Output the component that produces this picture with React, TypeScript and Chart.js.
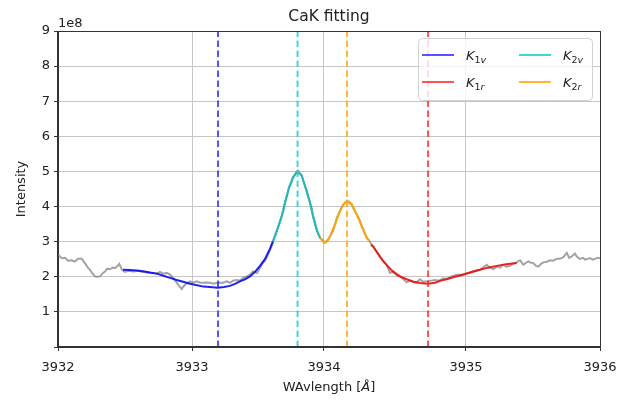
import React, { useEffect, useRef } from "react";
import { Chart, registerables } from "chart.js";

Chart.register(...registerables);

// Observed spectrum (wavelength in Å, intensity in units of 1e8)
const grayWl = [
  3932.002, 3932.027, 3932.052, 3932.074, 3932.101, 3932.125, 3932.148, 3932.175, 3932.199, 3932.221,
  3932.236, 3932.251, 3932.273, 3932.288, 3932.31, 3932.332, 3932.347, 3932.362, 3932.384, 3932.406,
  3932.421, 3932.435, 3932.452, 3932.472, 3932.494, 3932.517, 3932.556, 3932.59, 3932.62, 3932.655,
  3932.694, 3932.728, 3932.753, 3932.775, 3932.802, 3932.827, 3932.851, 3932.871, 3932.888, 3932.913,
  3932.923, 3932.937, 3932.959, 3932.974, 3932.996, 3933.024, 3933.048, 3933.07, 3933.097, 3933.122,
  3933.144, 3933.171, 3933.196, 3933.218, 3933.245, 3933.269, 3933.292, 3933.319, 3933.343, 3933.365,
  3933.393, 3933.417, 3933.439, 3933.469, 3933.491, 3933.513, 3933.528, 3933.55, 3933.565, 3933.579,
  3933.587, 3933.614, 3933.631, 3933.651, 3933.661, 3933.675, 3933.69, 3933.705, 3933.72, 3933.734,
  3933.749, 3933.762, 3933.771, 3933.786, 3933.799, 3933.808, 3933.823, 3933.838, 3933.86, 3933.875,
  3933.882, 3933.897, 3933.909, 3933.919, 3933.934, 3933.948, 3933.97, 3933.993, 3934.007, 3934.03,
  3934.044, 3934.059, 3934.081, 3934.096, 3934.118, 3934.135, 3934.148, 3934.168, 3934.185, 3934.205,
  3934.221, 3934.242, 3934.258, 3934.279, 3934.297, 3934.31, 3934.327, 3934.347, 3934.376, 3934.399,
  3934.426, 3934.45, 3934.475, 3934.502, 3934.524, 3934.546, 3934.573, 3934.598, 3934.62, 3934.642,
  3934.672, 3934.694, 3934.728, 3934.753, 3934.782, 3934.812, 3934.844, 3934.871, 3934.9, 3934.943,
  3934.974, 3935.004, 3935.041, 3935.077, 3935.114, 3935.137, 3935.164, 3935.188, 3935.213, 3935.24,
  3935.262, 3935.284, 3935.311, 3935.336, 3935.358, 3935.385, 3935.41, 3935.434, 3935.454, 3935.471,
  3935.491, 3935.508, 3935.528, 3935.545, 3935.565, 3935.582, 3935.609, 3935.631, 3935.653, 3935.681,
  3935.705, 3935.73, 3935.755, 3935.772, 3935.791, 3935.815, 3935.83, 3935.852, 3935.875, 3935.889,
  3935.911, 3935.926, 3935.948, 3935.963, 3935.985, 3936.0,
];
const grayI = [
  2.63, 2.53, 2.54, 2.46, 2.47, 2.43, 2.51, 2.51, 2.39, 2.26,
  2.2, 2.11, 2.01, 2.0, 2.01, 2.11, 2.15, 2.23, 2.22, 2.26,
  2.25, 2.29, 2.37, 2.2, 2.14, 2.17, 2.15, 2.17, 2.14, 2.12,
  2.11, 2.09, 2.14, 2.09, 2.11, 2.06, 1.96, 1.86, 1.77, 1.65,
  1.71, 1.77, 1.83, 1.87, 1.83, 1.87, 1.83, 1.83, 1.84, 1.83,
  1.8, 1.82, 1.83, 1.83, 1.87, 1.83, 1.89, 1.91, 1.89, 1.97,
  2.01, 2.06, 2.15, 2.11, 2.26, 2.4, 2.46, 2.63, 2.77, 2.89,
  3.0, 3.31, 3.49, 3.74, 3.86, 4.11, 4.31, 4.54, 4.66, 4.83,
  4.91, 5.0, 5.03, 4.94, 4.89, 4.77, 4.6, 4.43, 4.11, 3.91,
  3.74, 3.54, 3.34, 3.23, 3.11, 3.06, 2.97, 3.06, 3.15, 3.31,
  3.49, 3.69, 3.87, 4.0, 4.11, 4.17, 4.11, 4.06, 3.91, 3.77,
  3.66, 3.44, 3.29, 3.11, 3.03, 2.94, 2.86, 2.74, 2.58, 2.43,
  2.34, 2.11, 2.15, 2.03, 2.01, 1.94, 1.84, 1.89, 1.87, 1.83,
  1.93, 1.86, 1.87, 1.89, 1.91, 1.89, 1.96, 1.94, 2.0, 2.06,
  2.06, 2.09, 2.12, 2.17, 2.2, 2.26, 2.34, 2.26, 2.22, 2.29,
  2.26, 2.34, 2.29, 2.31, 2.37, 2.41, 2.47, 2.34, 2.4, 2.44,
  2.4, 2.39, 2.31, 2.29, 2.37, 2.41, 2.43, 2.47, 2.46, 2.51,
  2.51, 2.56, 2.68, 2.54, 2.58, 2.66, 2.57, 2.51, 2.54, 2.49,
  2.51, 2.53, 2.49, 2.51, 2.54, 2.53,
];

// Fitted segments
const k1vWl = [3932.48, 3932.531, 3932.581, 3932.627, 3932.679, 3932.731, 3932.777, 3932.827, 3932.876, 3932.923, 3932.974, 3933.026, 3933.072, 3933.122, 3933.179, 3933.225, 3933.269, 3933.306, 3933.343, 3933.38, 3933.417, 3933.454, 3933.491, 3933.528, 3933.565, 3933.585];
const k1vI = [2.2, 2.19, 2.18, 2.16, 2.12, 2.09, 2.03, 1.97, 1.91, 1.86, 1.8, 1.76, 1.72, 1.71, 1.69, 1.71, 1.74, 1.8, 1.87, 1.93, 2.01, 2.14, 2.31, 2.51, 2.8, 3.0];

const k2vWl = [3933.585, 3933.614, 3933.651, 3933.675, 3933.705, 3933.734, 3933.753, 3933.769, 3933.786, 3933.799, 3933.823, 3933.86, 3933.882, 3933.909, 3933.934];
const k2vI = [3.0, 3.29, 3.72, 4.11, 4.54, 4.83, 4.93, 4.96, 4.93, 4.87, 4.58, 4.11, 3.72, 3.34, 3.11];

const k2rWl = [3933.934, 3933.952, 3933.97, 3933.989, 3934.007, 3934.044, 3934.081, 3934.103, 3934.118, 3934.135, 3934.151, 3934.168, 3934.205, 3934.242, 3934.279, 3934.298];
const k2rI = [3.11, 3.01, 2.97, 3.01, 3.15, 3.49, 3.87, 4.03, 4.11, 4.14, 4.13, 4.06, 3.77, 3.44, 3.11, 3.01];

const k1rWl = [3934.31, 3934.327, 3934.376, 3934.426, 3934.475, 3934.524, 3934.573, 3934.622, 3934.672, 3934.727, 3934.782, 3934.826, 3934.868, 3934.93, 3934.991, 3935.048, 3935.114, 3935.173, 3935.238, 3935.306, 3935.385];
const k1rI = [2.91, 2.86, 2.57, 2.33, 2.14, 2.01, 1.93, 1.86, 1.82, 1.8, 1.83, 1.89, 1.93, 2.0, 2.06, 2.13, 2.2, 2.26, 2.31, 2.36, 2.39];

// Line centres (dashed verticals)
const k1vCenter = 3933.181;
const k2vCenter = 3933.768;
const k2rCenter = 3934.133;
const k1rCenter = 3934.731;

// Axis ticks
const xTickPositions = [3932, 3932.989, 3933.963, 3935.011, 3936];
const xTickLabels = ["3932", "3933", "3934", "3935", "3936"];
const yTickValues = [1, 2, 3, 4, 5, 6, 7, 8, 9];

const FONT = '"DejaVu Sans", sans-serif';

const pts = (xs: number[], ys: number[]) => xs.map((x, i) => ({ x, y: ys[i] }));
const vline = (x: number) => [{ x, y: 0 }, { x, y: 9 }];

const COLORS = {
  gray: "rgba(128,128,128,0.72)",
  k1v: "rgba(10,10,240,0.9)",
  k2v: "rgba(25,185,185,0.95)",
  k2r: "rgba(255,165,0,0.95)",
  k1r: "rgba(240,10,10,0.9)",
  k1vD: "rgba(40,40,255,0.8)",
  k2vD: "rgba(40,205,205,0.85)",
  k2rD: "rgba(255,170,20,0.85)",
  k1rD: "rgba(255,40,40,0.8)",
};

const decorPlugin = {
  id: "decor",
  afterDraw(chart: any) {
    const ctx = chart.ctx;
    const a = chart.chartArea;
    ctx.save();
    // frame
    ctx.strokeStyle = "#333";
    ctx.lineWidth = 1;
    ctx.strokeRect(Math.round(a.left) - 0.5, Math.round(a.top) + 0.5, Math.round(a.right - a.left) + 1, Math.round(a.bottom - a.top) - 1);
    const cx = (a.left + a.right) / 2;
    ctx.fillStyle = "#222";
    // title
    ctx.font = `15.5px ${FONT}`;
    ctx.textAlign = "center";
    ctx.textBaseline = "middle";
    ctx.fillText("CaK fitting", cx, 17);
    // offset text
    ctx.font = `13px ${FONT}`;
    ctx.textAlign = "left";
    ctx.fillText("1e8", a.left, 24);
    // y label
    ctx.save();
    ctx.translate(22, (a.top + a.bottom) / 2);
    ctx.rotate(-Math.PI / 2);
    ctx.textAlign = "center";
    ctx.fillText("Intensity", 0, 0);
    ctx.restore();
    // x label: WAvlength [Å]
    const p1 = "WAvlength [";
    const p2 = "Å";
    const p3 = "]";
    ctx.font = `13px ${FONT}`;
    const w1 = ctx.measureText(p1).width;
    const w3 = ctx.measureText(p3).width;
    ctx.font = `italic 13px ${FONT}`;
    const w2 = ctx.measureText(p2).width;
    let x = cx - (w1 + w2 + w3) / 2;
    const y = 388;
    ctx.font = `13px ${FONT}`;
    ctx.fillText(p1, x, y);
    x += w1;
    ctx.font = `italic 13px ${FONT}`;
    ctx.fillText(p2, x, y);
    x += w2;
    ctx.font = `13px ${FONT}`;
    ctx.fillText(p3, x, y);

    // legend
    const bx = 418.5, by = 38.5, bw = 174, bh = 62;
    ctx.beginPath();
    ctx.roundRect(bx, by, bw, bh, 4);
    ctx.fillStyle = "rgba(255,255,255,0.8)";
    ctx.fill();
    ctx.strokeStyle = "rgba(204,204,204,0.9)";
    ctx.stroke();
    const items = [
      { sub: "1v", color: COLORS.k1vD, lx: 422, ly: 55 },
      { sub: "2v", color: COLORS.k2vD, lx: 519, ly: 55 },
      { sub: "1r", color: COLORS.k1rD, lx: 422, ly: 82 },
      { sub: "2r", color: COLORS.k2rD, lx: 519, ly: 82 },
    ];
    for (const it of items) {
      ctx.beginPath();
      ctx.strokeStyle = it.color;
      ctx.lineWidth = 2;
      ctx.moveTo(it.lx, it.ly);
      ctx.lineTo(it.lx + 32, it.ly);
      ctx.stroke();
      ctx.fillStyle = "#222";
      ctx.textBaseline = "alphabetic";
      ctx.font = `italic 13px ${FONT}`;
      const tx = it.lx + 44;
      ctx.fillText("K", tx, it.ly + 5);
      const kw = ctx.measureText("K").width;
      ctx.font = `9.5px ${FONT}`;
      ctx.fillText(it.sub[0], tx + kw, it.ly + 8);
      const dw = ctx.measureText(it.sub[0]).width;
      ctx.font = `italic 9.5px ${FONT}`;
      ctx.fillText(it.sub[1], tx + kw + dw, it.ly + 8);
    }
    ctx.restore();
  },
};

export default function App() {
  const ref = useRef<HTMLCanvasElement>(null);
  useEffect(() => {
    if (!ref.current) return;
    const line = (data: any[], color: string, order: number, dash?: number[]) => ({
      data,
      borderColor: color,
      backgroundColor: color,
      borderWidth: 2,
      pointRadius: 0,
      tension: 0,
      fill: false,
      order,
      borderDash: dash || [],
    });
    const dash = [6.5, 3.5];
    const chart = new Chart(ref.current, {
      type: "line",
      data: {
        datasets: [
          line(vline(k1vCenter), COLORS.k1vD, 1, dash),
          line(vline(k2vCenter), COLORS.k2vD, 1, dash),
          line(vline(k2rCenter), COLORS.k2rD, 1, dash),
          line(vline(k1rCenter), COLORS.k1rD, 1, dash),
          line(pts(k1vWl, k1vI), COLORS.k1v, 5),
          line(pts(k2vWl, k2vI), COLORS.k2v, 5),
          line(pts(k2rWl, k2rI), COLORS.k2r, 5),
          line(pts(k1rWl, k1rI), COLORS.k1r, 5),
          line(pts(grayWl, grayI), COLORS.gray, 10),
        ] as any,
      },
      plugins: [decorPlugin],
      options: {
        animation: false,
        responsive: false,
        devicePixelRatio: 1,
        parsing: false,
        layout: { padding: { left: 0, right: 39, top: 31, bottom: 0 } },
        plugins: { legend: { display: false }, tooltip: { enabled: false }, title: { display: false } },
        scales: {
          x: {
            type: "linear",
            min: 3932,
            max: 3936,
            afterBuildTicks: (s: any) => {
              s.ticks = xTickPositions.map((v) => ({ value: v }));
            },
            afterFit: (s: any) => {
              s.height = 54;
            },
            ticks: {
              autoSkip: false,
              maxRotation: 0,
              padding: 9,
              color: "#222",
              font: { family: FONT, size: 13 },
              callback: (_v: any, i: number) => xTickLabels[i],
            },
            grid: { color: "#c6c6c6", lineWidth: 1, tickColor: "#333", tickLength: 4 },
            border: { color: "#333" },
          },
          y: {
            type: "linear",
            min: 0,
            max: 9,
            afterBuildTicks: (s: any) => {
              s.ticks = [0, ...yTickValues].map((v) => ({ value: v }));
            },
            afterFit: (s: any) => {
              s.width = 58;
            },
            ticks: {
              padding: 4,
              color: "#222",
              font: { family: FONT, size: 13 },
              callback: (v: any) => (v === 0 ? "" : String(v)),
            },
            grid: { color: "#c6c6c6", lineWidth: 1, tickColor: "#333", tickLength: 4 },
            border: { color: "#333" },
          },
        },
      } as any,
    });
    return () => chart.destroy();
  }, []);
  return (
    <div style={{ position: "fixed", left: 0, top: 0, width: 639, height: 401, background: "#fff" }}>
      <canvas ref={ref} width={639} height={401} style={{ display: "block" }} />
    </div>
  );
}
